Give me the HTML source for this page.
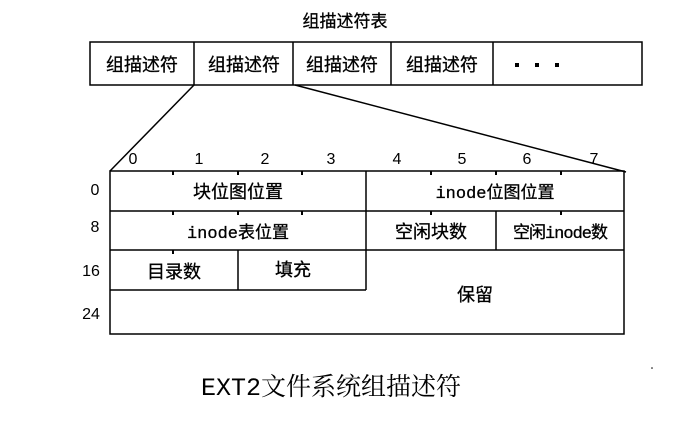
<!DOCTYPE html>
<html><head><meta charset="utf-8"><style>
html,body{margin:0;padding:0;background:#fff;}
svg text{font-family:"Liberation Sans","Noto Sans CJK SC",sans-serif;fill:#000;}
.m{font-family:"Liberation Mono","Noto Sans CJK SC",monospace;}
</style></head><body>
<svg width="696" height="421" viewBox="0 0 696 421" xmlns="http://www.w3.org/2000/svg">
<g stroke="#000" stroke-width="1.5" fill="none">
<rect x="90" y="42" width="552" height="43"/>
<line x1="194" y1="42" x2="194" y2="85"/>
<line x1="293" y1="42" x2="293" y2="85"/>
<line x1="391" y1="42" x2="391" y2="85"/>
<line x1="493" y1="42" x2="493" y2="85"/>
<line x1="194" y1="85" x2="110" y2="171"/>
<line x1="295" y1="85" x2="626" y2="172"/>
<rect x="110" y="171" width="514" height="163"/>
<line x1="110" y1="211" x2="624" y2="211"/>
<line x1="110" y1="250" x2="624" y2="250"/>
<line x1="110" y1="290" x2="366" y2="290"/>
<line x1="366" y1="171" x2="366" y2="290"/>
<line x1="238" y1="250" x2="238" y2="290"/>
<line x1="496" y1="211" x2="496" y2="250"/>
<g stroke-width="2">
<line x1="173" y1="171" x2="173" y2="175"/><line x1="238" y1="171" x2="238" y2="175"/><line x1="302" y1="171" x2="302" y2="175"/>
<line x1="431" y1="171" x2="431" y2="175"/><line x1="496" y1="171" x2="496" y2="175"/><line x1="561" y1="171" x2="561" y2="175"/>
<line x1="173" y1="211" x2="173" y2="215"/><line x1="238" y1="211" x2="238" y2="215"/><line x1="302" y1="211" x2="302" y2="215"/>
<line x1="431" y1="211" x2="431" y2="215"/><line x1="561" y1="211" x2="561" y2="215"/>
<line x1="173" y1="250" x2="173" y2="254"/>
</g>
</g>
<text x="345" y="27" font-size="17" text-anchor="middle" stroke="#000" stroke-width="0.3">组描述符表</text>
<g font-size="18" text-anchor="middle" stroke="#000" stroke-width="0.3">
<text x="142" y="71">组描述符</text>
<text x="244" y="71">组描述符</text>
<text x="342" y="71">组描述符</text>
<text x="442" y="71">组描述符</text>
</g>
<rect x="515" y="63" width="4" height="4" fill="#000"/>
<rect x="535" y="63" width="4" height="4" fill="#000"/>
<rect x="555" y="63" width="4" height="4" fill="#000"/>
<g class="m" font-size="16" text-anchor="middle">
<text x="133" y="164">0</text><text x="199" y="164">1</text><text x="265" y="164">2</text><text x="331" y="164">3</text>
<text x="397" y="164">4</text><text x="462" y="164">5</text><text x="527" y="164">6</text><text x="594" y="164">7</text>
<text x="95" y="195">0</text><text x="95" y="232">8</text><text x="91" y="276">16</text><text x="91" y="319">24</text>
</g>
<g font-size="18" text-anchor="middle" stroke="#000" stroke-width="0.3">
<text x="238" y="198">块位图位置</text>
<text x="495" y="198" class="m" font-size="17">inode位图位置</text>
<text x="238" y="238" class="m" font-size="17">inode表位置</text>
<text x="431" y="238">空闲块数</text>
<text x="560" y="238" class="m" font-size="17" letter-spacing="-1">空闲inode数</text>
<text x="174" y="278">目录数</text>
<text x="293" y="276">填充</text>
<text x="475" y="301">保留</text>
</g>
<text x="331" y="395" font-size="25" text-anchor="middle" style="font-family:'Liberation Mono','Noto Serif CJK SC',serif">EXT2文件系统组描述符</text>
<circle cx="652" cy="368" r="0.8" fill="#000"/>
</svg>
</body></html>
